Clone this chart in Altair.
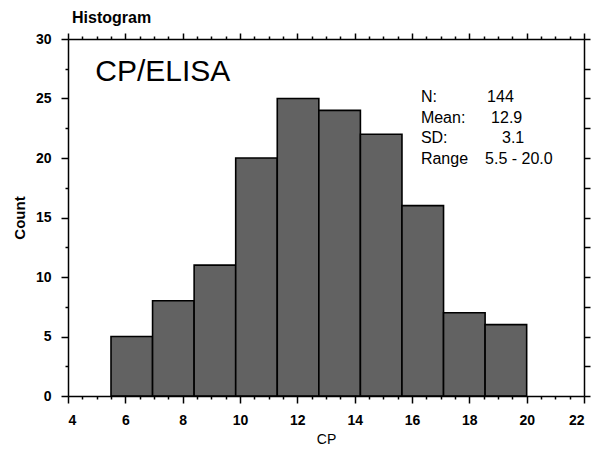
import altair as alt
import pandas as pd

# ---- data ----
bin_starts = [5.5, 6.95, 8.4, 9.85, 11.3, 12.75, 14.2, 15.65, 17.1, 18.55]
bin_ends = [6.95, 8.4, 9.85, 11.3, 12.75, 14.2, 15.65, 17.1, 18.55, 20.0]
counts = [5, 8, 11, 20, 25, 24, 22, 16, 7, 6]

x_major = [4, 6, 8, 10, 12, 14, 16, 18, 20, 22]
x_minor = [v / 2 for v in range(8, 45) if v % 4 != 0]
y_major = [0, 5, 10, 15, 20, 25, 30]
y_minor = [2.5, 7.5, 12.5, 17.5, 22.5, 27.5]
y_right = [v / 2 for v in range(0, 61, 5)]

stat_labels = ["N:", "Mean:", "SD:", "Range"]
stat_values = ["144", "12.9", "3.1", "5.5 - 20.0"]
big_label = "CP/ELISA"

FONT = "Liberation Sans"

bars = pd.DataFrame({"start": bin_starts, "end": bin_ends, "count": counts})

xs = alt.Scale(domain=[4, 22], nice=False, zero=False)
ys = alt.Scale(domain=[0, 30], nice=False)


def ax(orient, values, size, labels=False, title=None, domain=True, pad=8, **kw):
    d = dict(orient=orient, values=values, tickSize=size, tickColor="black",
             tickWidth=1.5, domain=domain, domainColor="black", domainWidth=1.5,
             grid=False, labels=labels, zindex=2)
    if labels:
        d.update(labelFont=FONT, labelFontSize=14, labelFontWeight="bold",
                 labelColor="black", labelPadding=pad)
    if title:
        d.update(title=title, titleFont=FONT, titleColor="black")
    else:
        d.update(title=None)
    d.update(kw)
    return alt.Axis(**d)


base = alt.Chart(bars)

main = base.mark_bar(fill="#626262", stroke="black", strokeWidth=1.6).encode(
    x=alt.X("start:Q", scale=xs,
            axis=ax("bottom", x_major, 7, labels=True, title="CP", pad=10,
                    titleFontSize=14, titleFontWeight="normal", titlePadding=5)),
    x2="end:Q",
    y=alt.Y("count:Q", scale=ys,
            axis=ax("left", y_major, 7, labels=True, title="Count", pad=10,
                    titleFontSize=15, titleFontWeight="bold", titlePadding=8)),
    y2=alt.datum(0),
)

layer2 = base.mark_bar(opacity=0).encode(
    x=alt.X("start:Q", scale=xs, axis=ax("bottom", x_minor, 3, domain=False)),
    x2="end:Q",
    y=alt.Y("count:Q", scale=ys, axis=ax("left", y_minor, 3, domain=False)),
    y2=alt.datum(0),
)

layer3 = base.mark_bar(opacity=0).encode(
    x=alt.X("start:Q", scale=xs, axis=ax("top", x_major, 6)),
    x2="end:Q",
    y=alt.Y("count:Q", scale=ys, axis=ax("right", y_right, 6)),
    y2=alt.datum(0),
)

layer4 = base.mark_bar(opacity=0).encode(
    x=alt.X("start:Q", scale=xs, axis=ax("top", x_minor, 3, domain=False)),
    x2="end:Q",
    y=alt.Y("count:Q", scale=ys, axis=None),
    y2=alt.datum(0),
)

# annotations (positioned in data units)
big = pd.DataFrame({"x": [4.95], "y": [27.2], "t": [big_label]})
big_text = alt.Chart(big).mark_text(
    align="left", baseline="middle", font=FONT, fontSize=30, color="black"
).encode(
    x=alt.X("x:Q", scale=xs, axis=None),
    y=alt.Y("y:Q", scale=ys, axis=None),
    text="t:N",
)

row_y = [25.13 - 1.74 * i for i in range(len(stat_labels))]
stats = pd.DataFrame({
    "lab": stat_labels,
    "val": stat_values,
    "y": row_y,
    "xl": [16.31] * len(stat_labels),
    "xv": [18.62, 18.76, 19.14, 18.55],
})
stat_lab = alt.Chart(stats).mark_text(
    align="left", baseline="middle", font=FONT, fontSize=16, color="black"
).encode(
    x=alt.X("xl:Q", scale=xs, axis=None),
    y=alt.Y("y:Q", scale=ys, axis=None),
    text="lab:N",
)
stat_val = alt.Chart(stats).mark_text(
    align="left", baseline="middle", font=FONT, fontSize=16, color="black"
).encode(
    x=alt.X("xv:Q", scale=xs, axis=None),
    y=alt.Y("y:Q", scale=ys, axis=None),
    text="val:N",
)

chart = alt.layer(main, layer2, layer3, layer4, big_text, stat_lab, stat_val).resolve_axis(
    x="independent", y="independent"
).properties(
    width=516,
    height=357,
    padding={"left": 60, "top": 31, "right": 10, "bottom": 50},
    autosize=alt.AutoSizeParams(type="none"),
    title=alt.TitleParams(
        "Histogram", anchor="start", frame="group", font=FONT, fontSize=16,
        fontWeight="bold", color="black", dx=4, offset=6
    ),
).configure_view(stroke=None).configure(background="white")

chart.save("out.html", embed_options={"renderer": "svg", "actions": False})
